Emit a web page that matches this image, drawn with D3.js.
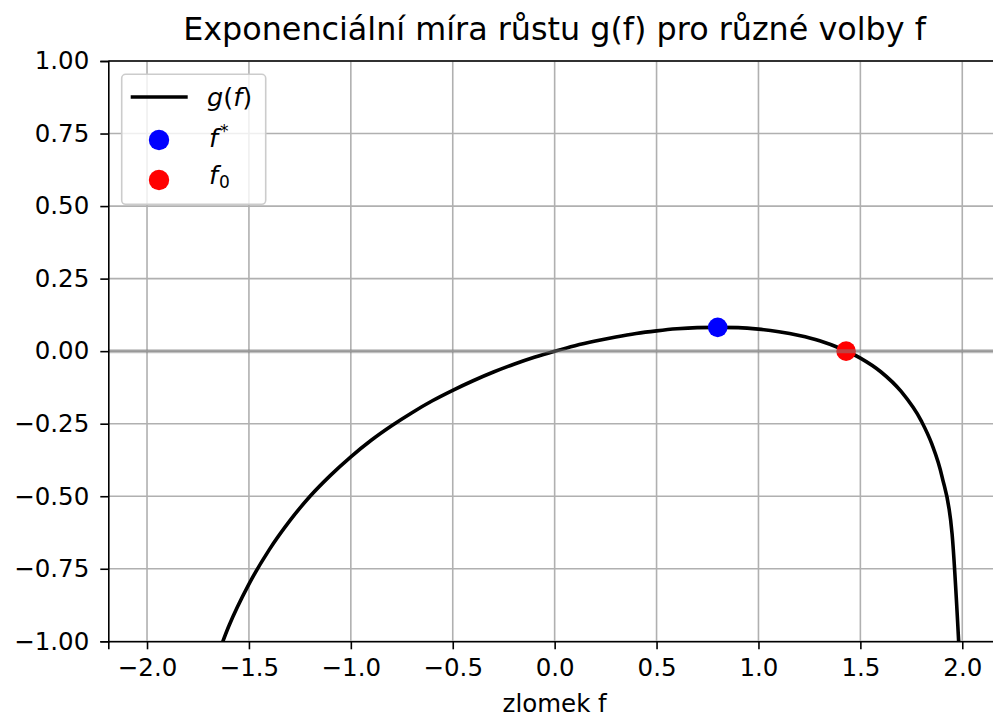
<!DOCTYPE html>
<html>
<head>
<meta charset="utf-8">
<script src="https://cdn.jsdelivr.net/npm/d3@7"></script>
<style>
    body { margin: 0; background: #fff; }
    svg { display: block; font-family: "DejaVu Sans", sans-serif; }
</style>
</head>
<body>
<div id="chart"></div>
<script>
// zlomek f a hodnoty g(f)
const fValues = [-1.7, -1.6, -1.5, -1.4, -1.3, -1.2, -1.1, -1.0, -0.9, -0.8, -0.7, -0.6, -0.5, -0.4, -0.3, -0.2, -0.1,
    0.0, 0.1, 0.2, 0.3, 0.4, 0.5, 0.6, 0.7, 0.8, 0.9, 1.0, 1.1, 1.2, 1.3, 1.4, 1.5, 1.6, 1.7, 1.8, 1.85, 1.9, 1.95, 1.99];
const gValues = [-1.143, -0.950, -0.803, -0.684, -0.585, -0.500, -0.428, -0.364, -0.307, -0.257, -0.212, -0.171, -0.135, -0.102, -0.072, -0.045, -0.021,
    0.0, 0.019, 0.035, 0.049, 0.061, 0.070, 0.077, 0.081, 0.082, 0.081, 0.076, 0.067, 0.054, 0.036, 0.010, -0.024, -0.071, -0.139, -0.242, -0.319, -0.431, -0.630, -1.106];

// body f* a f0
const pointNames = ["fstar", "f0"];
const pointF = [0.8, 1.43];
const pointG = [0.082, 0.0];
const pointColors = ["#0000ff", "#ff0000"];

const xTicks = [-2.0, -1.5, -1.0, -0.5, 0.0, 0.5, 1.0, 1.5, 2.0];
const yTicks = [-1.0, -0.75, -0.5, -0.25, 0.0, 0.25, 0.5, 0.75, 1.0];

const width = 993, height = 716;
const margin = { left: 108.3, top: 61, right: 1001, bottom: 641.3 };

const svg = d3.select("#chart").append("svg")
    .attr("width", width)
    .attr("height", height);

const x = d3.scaleLinear().domain([-2.19, 2.19]).range([margin.left, margin.right]);
const y = d3.scaleLinear().domain([-1, 1]).range([margin.bottom, margin.top]);

const minus = s => s.replace("-", "\u2212");

svg.append("defs").append("clipPath").attr("id", "plot-clip")
    .append("rect")
    .attr("x", margin.left).attr("y", margin.top)
    .attr("width", margin.right - margin.left)
    .attr("height", margin.bottom - margin.top);

// Mřížka
const grid = svg.append("g");
grid.selectAll(".gx").data(xTicks).enter().append("line")
    .attr("x1", d => x(d)).attr("x2", d => x(d))
    .attr("y1", margin.top).attr("y2", margin.bottom)
    .attr("stroke", "#b0b0b0").attr("stroke-width", 1.6);
grid.selectAll(".gy").data(yTicks).enter().append("line")
    .attr("x1", margin.left).attr("x2", margin.right)
    .attr("y1", d => y(d)).attr("y2", d => y(d))
    .attr("stroke", "#b0b0b0").attr("stroke-width", 1.6);

const plot = svg.append("g").attr("clip-path", "url(#plot-clip)");

// Křivka g(f)
const line = d3.line()
    .x((d, i) => x(fValues[i]))
    .y(d => y(d))
    .curve(d3.curveMonotoneX);

plot.append("path")
    .datum(gValues)
    .attr("d", line)
    .attr("fill", "none")
    .attr("stroke", "#000")
    .attr("stroke-width", 3.6);

// Body
plot.selectAll(".pt").data(pointNames).enter().append("circle")
    .attr("cx", (d, i) => x(pointF[i]))
    .attr("cy", (d, i) => y(pointG[i]))
    .attr("r", 9.8)
    .attr("fill", (d, i) => pointColors[i]);

// Vodorovná čára v nule
plot.append("line")
    .attr("x1", margin.left).attr("x2", margin.right)
    .attr("y1", y(0)).attr("y2", y(0))
    .attr("stroke", "#808080").attr("stroke-opacity", 0.5)
    .attr("stroke-width", 4);

// Osy
const xAxis = svg.append("g")
    .attr("transform", `translate(0,${margin.bottom})`)
    .call(d3.axisBottom(x).tickValues(xTicks).tickSizeOuter(0).tickSize(8).tickPadding(9)
        .tickFormat(d => minus(d3.format(".1f")(d))));
const yAxis = svg.append("g")
    .attr("transform", `translate(${margin.left},0)`)
    .call(d3.axisLeft(y).tickValues(yTicks).tickSizeOuter(0).tickSize(8).tickPadding(11)
        .tickFormat(d => minus(d3.format(".2f")(d))));

[xAxis, yAxis].forEach(a => {
    a.select(".domain").attr("stroke", "#000").attr("stroke-width", 1.6);
    a.selectAll(".tick line").attr("stroke", "#000").attr("stroke-width", 1.6);
    a.selectAll(".tick text")
        .attr("fill", "#000")
        .style("font-family", "DejaVu Sans")
        .style("font-size", "24.5px");
});

// Horní rámeček
svg.append("line")
    .attr("x1", margin.left).attr("x2", margin.right)
    .attr("y1", margin.top).attr("y2", margin.top)
    .attr("stroke", "#000").attr("stroke-width", 1.6);

// Titulek a popisek osy
svg.append("text")
    .attr("x", 554.5)
    .attr("y", 40)
    .attr("text-anchor", "middle")
    .style("font-size", "31.8px")
    .text("Exponenciální míra růstu g(f) pro různé volby f");

svg.append("text")
    .attr("x", x(0))
    .attr("y", 712)
    .attr("text-anchor", "middle")
    .style("font-size", "24.5px")
    .text("zlomek f");

// Legenda
const legend = svg.append("g");
legend.append("rect")
    .attr("x", 121.7).attr("y", 74.3)
    .attr("width", 144).attr("height", 130)
    .attr("rx", 4)
    .attr("fill", "#fff").attr("fill-opacity", 0.8)
    .attr("stroke", "#cccccc").attr("stroke-width", 1.6);

legend.append("line")
    .attr("x1", 130.7).attr("x2", 187.7)
    .attr("y1", 97).attr("y2", 97)
    .attr("stroke", "#000").attr("stroke-width", 3.6);

legend.selectAll(".ld").data(pointNames).enter().append("circle")
    .attr("cx", 159)
    .attr("cy", (d, i) => 140 + i * 40)
    .attr("r", 10.2)
    .attr("fill", (d, i) => pointColors[i]);

const t1 = legend.append("text").attr("x", 207).attr("y", 106).style("font-size", "25.5px");
t1.append("tspan").style("font-style", "italic").text("g");
t1.append("tspan").text("(");
t1.append("tspan").style("font-style", "italic").text("f");
t1.append("tspan").text(")");

const t2 = legend.append("text").attr("x", 209).attr("y", 147).style("font-size", "25.5px");
t2.append("tspan").style("font-style", "italic").text("f");
t2.append("tspan").attr("dy", -10).attr("dx", 2).style("font-size", "17px").text("*");

const t3 = legend.append("text").attr("x", 209).attr("y", 184).style("font-size", "25.5px");
t3.append("tspan").style("font-style", "italic").text("f");
t3.append("tspan").attr("dy", 4).attr("dx", 1).style("font-size", "17px").text("0");
</script>
</body>
</html>
